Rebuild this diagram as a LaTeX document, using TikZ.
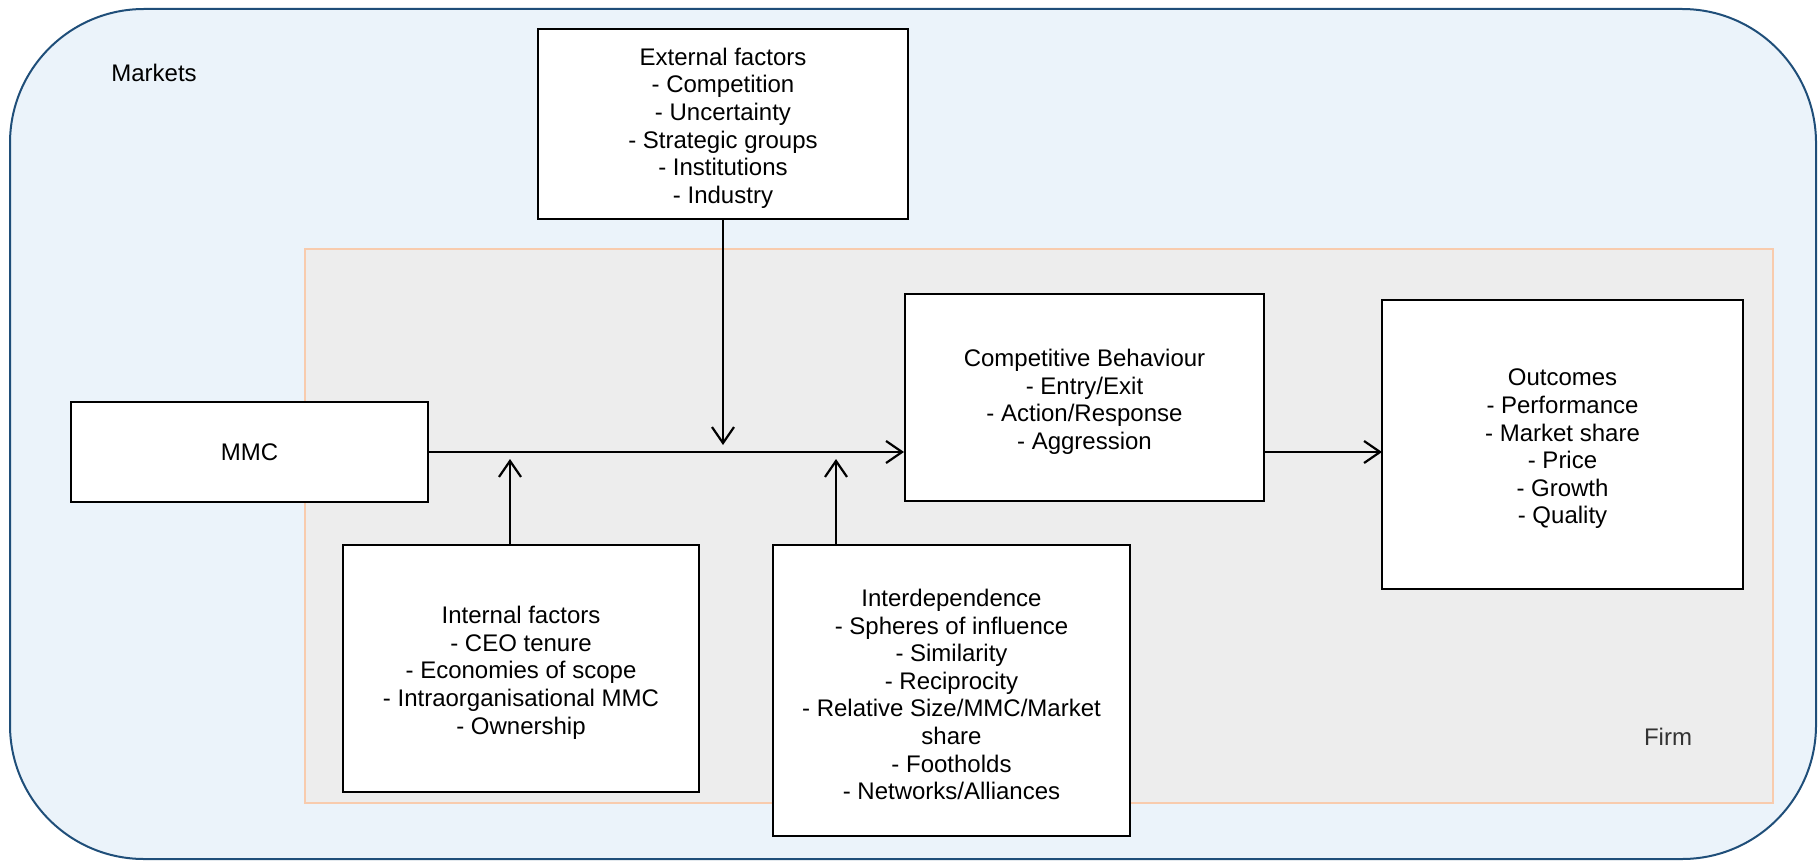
\documentclass[tikz,border=0pt]{standalone}
\usepackage{fontspec}
\setmainfont{Liberation Sans}
\usetikzlibrary{arrows.meta}
\definecolor{mktfill}{RGB}{235,243,250}
\definecolor{mktdraw}{RGB}{31,78,121}
\definecolor{firmfill}{RGB}{237,237,237}
\definecolor{firmdraw}{RGB}{248,203,173}
\newcommand\fstrut{\rule{0pt}{12.8pt}}
\begin{document}
\begin{tikzpicture}[x=0.5pt,y=-0.5pt,
  box/.style={draw=black,line width=1pt,fill=white,align=center,inner sep=0pt,
    font=\fontsize{12pt}{13.8pt}\selectfont},
  lbl/.style={inner sep=0pt,font=\fontsize{12pt}{13.8pt}\selectfont},
  arr/.style={line width=1.1pt,-{Straight Barb[length=8pt,width=11pt]}}]
\useasboundingbox (0,0) rectangle (1818,861);
\draw[fill=mktfill,draw=mktdraw,line width=1pt,rounded corners=67pt] (10,9) rectangle (1816,859);
\draw[fill=firmfill,draw=firmdraw,line width=1.3pt] (305,249) rectangle (1773,803);
\node[lbl] (markets) at (154,73) {Markets};
\node[lbl,text=black!80] (firm) at (1668,737) {Firm};
\node[box,minimum width=185pt,minimum height=95pt] (ext) at (723,124)
  {\fstrut External factors\\- Competition\\- Uncertainty\\- Strategic groups\\- Institutions\\- Industry};
\node[box,minimum width=178.5pt,minimum height=50pt] (mmc) at (249.5,452) {MMC};
\node[box,minimum width=179.5pt,minimum height=103.5pt] (cb) at (1084.5,397.5)
  {\fstrut Competitive Behaviour\\- Entry/Exit\\- Action/Response\\- Aggression};
\node[box,minimum width=180.5pt,minimum height=144.5pt] (out) at (1562.5,444.5)
  {\fstrut Outcomes\\- Performance\\- Market share\\- Price\\- Growth\\- Quality};
\node[box,minimum width=178pt,minimum height=123.5pt] (int) at (521,668.5)
  {\fstrut Internal factors\\- CEO tenure\\- Economies of scope\\- Intraorganisational MMC\\- Ownership};
\node[box,minimum width=178.5pt,minimum height=145.5pt] (dep) at (951.5,690.5)
  {\fstrut Interdependence\\- Spheres of influence\\- Similarity\\- Reciprocity\\- Relative Size/MMC/Market\\share\\- Footholds\\- Networks/Alliances};
\coordinate (cbin) at (cb.west |- mmc.east);
\coordinate (extend) at (723,445);
\coordinate (intend) at (510,459);
\coordinate (depend) at (836,459);
\coordinate (intstart) at (510,545);
\coordinate (depstart) at (836,545);
\coordinate (cbout) at (1264,452);
\coordinate (outin) at (1382,452);
\draw[arr] (mmc.east) -- (cbin);
\draw[arr] (ext.south) -- (extend);
\draw[arr] (intstart) -- (intend);
\draw[arr] (depstart) -- (depend);
\draw[arr] (cbout) -- (outin);
\end{tikzpicture}
\end{document}
